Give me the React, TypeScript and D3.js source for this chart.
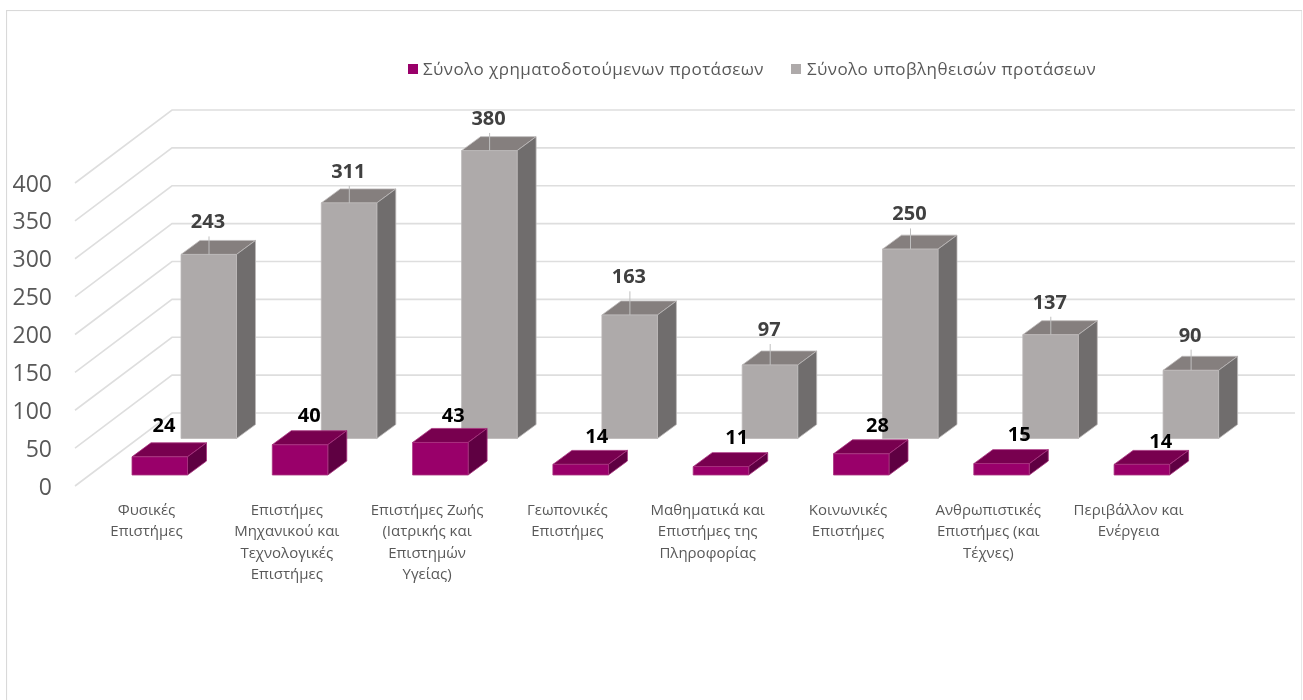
import React from "react";
import * as d3 from "d3";

const categories = [
  ["Φυσικές", "Επιστήμες"],
  ["Επιστήμες", "Μηχανικού και", "Τεχνολογικές", "Επιστήμες"],
  ["Επιστήμες Ζωής", "(Ιατρικής και", "Επιστημών", "Υγείας)"],
  ["Γεωπονικές", "Επιστήμες"],
  ["Μαθηματικά και", "Επιστήμες της", "Πληροφορίας"],
  ["Κοινωνικές", "Επιστήμες"],
  ["Ανθρωπιστικές", "Επιστήμες (και", "Τέχνες)"],
  ["Περιβάλλον και", "Ενέργεια"],
];
const funded = [24, 40, 43, 14, 11, 28, 15, 14];
const submitted = [243, 311, 380, 163, 97, 250, 137, 90];
const ticks = [0, 50, 100, 150, 200, 250, 300, 350, 400];
const seriesNames = ["Σύνολο χρηματοδοτούμενων προτάσεων", "Σύνολο υποβληθεισών προτάσεων"];

// manual data-label placement, as in the source chart: x offset from bar left, y offset above bar top
const fundedLabelDx = [32, 37, 40.7, 43.8, 43.5, 44, 45.5, 46.7];
const fundedLabelDy = [25, 22.4, 20.7, 21, 22.7, 22, 23, 16.7];
const submittedLabelDy = [26, 25, 25.7, 31.7, 29, 28.7, 26, 28.7];

const FONT = "'Open Sans', 'Noto Sans', sans-serif";
const h = d3.scaleLinear().domain([0, 400]).range([0, 303]);
const idx = d3.scaleLinear().domain([0, 1]).range([0, 140.3]);

function Bar({ x, base, value, w, dx, dy, front, top, side, edge }: any) {
  const t = base - h(value);
  const r = x + w;
  return (
    <g stroke={edge} strokeWidth={0.8} strokeLinejoin="round">
      <path d={`M${x},${t}L${x + dx},${t - dy}L${r + dx},${t - dy}L${r},${t}Z`} fill={top} />
      <path d={`M${r},${t}L${r + dx},${t - dy}L${r + dx},${base - dy}L${r},${base}Z`} fill={side} />
      <rect x={x} y={t} width={w} height={base - t} fill={front} />
    </g>
  );
}

export default function App() {
  const gridFrontX = 75, gridBackX = 172, gridEndX = 1295, y0Front = 486, y0Back = 413;
  return (
    <svg width={1303} height={700} style={{ position: "absolute", left: 0, top: 0, background: "#fff" }} fontFamily={FONT}>
      <defs>
        <filter id="soft" x="0" y="0" width="100%" height="100%">
          <feGaussianBlur stdDeviation={0.4} />
        </filter>
      </defs>
      <g filter="url(#soft)">
        <rect x={6.5} y={10.5} width={1295.5} height={700} fill="#fff" stroke="#d9d9d9" strokeWidth={1.2} />

        {ticks.map((t) => (
          <g key={t}>
            <path d={`M${gridFrontX},${y0Front - h(t)}L${gridBackX},${y0Back - h(t)}L${gridEndX},${y0Back - h(t)}`} fill="none" stroke="#dedede" strokeWidth={1.6} />
            <text x={52} y={y0Front - h(t) + 8.5} textAnchor="end" fontSize={23} fill="#595959">{t}</text>
          </g>
        ))}

        {submitted.map((v, i) => {
          const x = 181 + idx(i);
          const t = 438.5 - h(v);
          const dy = submittedLabelDy[i];
          return (
            <g key={i}>
              <Bar x={x} base={438.5} value={v} w={55.5} dx={19} dy={14} front="#aeaaaa" top="#857f7e" side="#6f6d6d" edge="#bdb9b9" />
              <line x1={x + 28} x2={x + 28} y1={t} y2={t - dy + 8} stroke="#bfbfbf" strokeWidth={1} />
              <text x={x + 27} y={t - dy} textAnchor="middle" fontSize={20} fontWeight={700} fill="#404040">{v}</text>
            </g>
          );
        })}

        {funded.map((v, i) => {
          const x = 132 + idx(i);
          const t = 475 - h(v);
          return (
            <g key={i}>
              <Bar x={x} base={475} value={v} w={55.5} dx={19} dy={14} front="#99006b" top="#78004f" side="#5f0042" edge="#a8347f" />
              <text x={x + fundedLabelDx[i]} y={t - fundedLabelDy[i]} textAnchor="middle" fontSize={20} fontWeight={700} fill="#000">{v}</text>
            </g>
          );
        })}

        {categories.map((lines, i) => (
          <text key={i} x={146.5 + idx(i)} y={515} textAnchor="middle" fontSize={15} fill="#595959">
            {lines.map((l, j) => (
              <tspan key={j} x={146.5 + idx(i)} y={515 + j * 21.3}>{l}</tspan>
            ))}
          </text>
        ))}

        <rect x={408} y={64} width={10} height={10} fill="#99006b" />
        <text x={423} y={75} fontSize={17} fill="#595959" letterSpacing={0.42}>{seriesNames[0]}</text>
        <rect x={791} y={64} width={10} height={10} fill="#aeaaaa" />
        <text x={807} y={75} fontSize={17} fill="#595959" letterSpacing={0.42}>{seriesNames[1]}</text>
      </g>
    </svg>
  );
}
